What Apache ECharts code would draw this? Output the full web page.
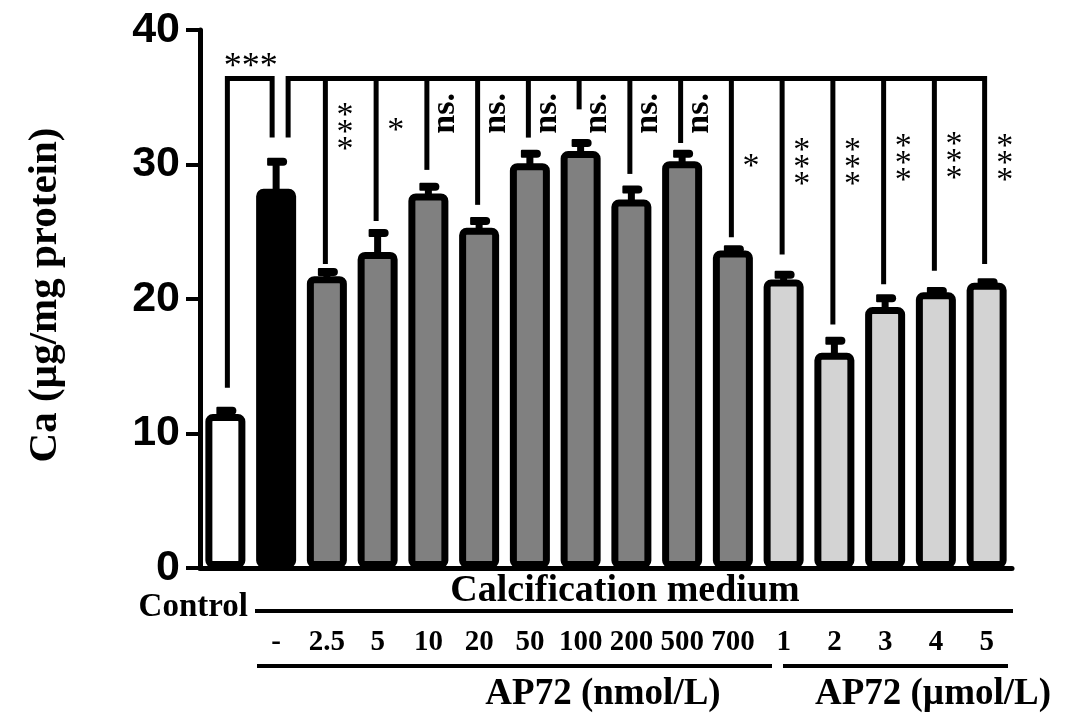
<!DOCTYPE html>
<html>
<head>
<meta charset="utf-8">
<script src="https://cdn.jsdelivr.net/npm/echarts@6/dist/echarts.min.js"></script>
<style>
  html, body { margin: 0; padding: 0; background: #fff; }
  #chart { width: 1065px; height: 717px; }
</style>
</head>
<body>
<div id="chart"></div>
<script>
  var categories = ['Control', '-', '2.5', '5', '10', '20', '50', '100', '200', '500', '700', '1', '2', '3', '4', '5'];
  var means = [11.45, 28.2, 21.7, 23.5, 27.85, 25.3, 30.1, 31.0, 27.4, 30.25, 23.6, 21.45, 16.0, 19.4, 20.5, 21.2];
  var errTops = [11.7, 30.2, 22.0, 24.9, 28.35, 25.8, 30.8, 31.6, 28.15, 30.8, 23.7, 21.8, 16.9, 20.05, 20.6, 21.25];
  var legEnds = [13.4, 32.0, 22.6, 25.8, 29.6, 27.0, 32.0, 34.1, 29.3, 31.6, 24.6, 23.3, 18.1, 21.1, 22.1, 22.6];
  var bracketLevel = 36.4;
  var sigLabels = ['***', '', '***', '*', 'ns.', 'ns.', 'ns.', 'ns.', 'ns.', 'ns.', '*', '***', '***', '***', '***', '***'];
  var sigLevels = [37.6, 0, 32.3, 32.5, 33.8, 33.8, 33.8, 33.8, 33.8, 33.8, 29.8, 29.7, 29.7, 30.0, 30.2, 30.0];
  var yTicks = [0, 10, 20, 30, 40];

  var serif = '"Liberation Serif", "Times New Roman", serif';
  var sans = '"Liberation Sans", Arial, sans-serif';

  function fillFor(i) {
    if (i === 0) return '#ffffff';
    if (i === 1) return '#000000';
    if (i <= 10) return '#808080';
    return '#d3d3d3';
  }

  var chart = echarts.init(document.getElementById('chart'));

  chart.setOption({
    animation: false,
    grid: { left: 200, right: 53, top: 30, bottom: 149 },
    xAxis: {
      type: 'category',
      data: categories,
      axisLine: { lineStyle: { color: '#000', width: 5 } },
      axisTick: { show: false },
      axisLabel: {
        interval: 0,
        margin: 75,
        verticalAlign: 'middle',
        color: '#000',
        fontFamily: serif,
        fontWeight: 'bold',
        fontSize: 29,
        formatter: function (v, i) { return i === 0 ? '' : v; }
      }
    },
    yAxis: {
      type: 'value',
      min: yTicks[0],
      max: yTicks[yTicks.length - 1],
      interval: yTicks[1] - yTicks[0],
      axisLine: { show: true, lineStyle: { color: '#000', width: 5 } },
      axisTick: { show: true, length: 14, lineStyle: { color: '#000', width: 4 } },
      splitLine: { show: false },
      axisLabel: {
        margin: 20,
        color: '#000',
        fontFamily: sans,
        fontWeight: 'bold',
        fontSize: 43
      }
    },
    series: [
      {
        type: 'bar',
        barWidth: 40,
        z: 2,
        itemStyle: { borderColor: '#000', borderWidth: 7, borderRadius: 4 },
        data: means.map(function (v, i) {
          return { value: v, itemStyle: { color: fillFor(i) } };
        })
      },
      {
        // upper error bars
        type: 'custom',
        z: 3,
        encode: { x: 0, y: [1, 2] },
        data: means.map(function (v, i) { return [i, v, errTops[i]]; }),
        renderItem: function (params, api) {
          var x = api.coord([api.value(0), 0])[0];
          var yMean = api.coord([api.value(0), api.value(1)])[1];
          var yTop = api.coord([api.value(0), api.value(2)])[1];
          return {
            type: 'group',
            children: [
              { type: 'rect', shape: { x: x - 3.5, y: yTop, width: 7, height: Math.max(0, yMean - yTop + 4) }, style: { fill: '#000' } },
              { type: 'rect', shape: { x: x - 9, y: yTop - 4, width: 20, height: 8, r: [1, 4, 4, 1] }, style: { fill: '#000' } }
            ]
          };
        }
      },
      {
        // significance brackets
        type: 'custom',
        z: 4,
        encode: { x: 0, y: 1 },
        data: legEnds.map(function (v, i) { return [i, v]; }),
        renderItem: function (params, api) {
          var i = api.value(0);
          var x = api.coord([i, 0])[0];
          var yLevel = api.coord([i, bracketLevel])[1];
          var yEnd = api.coord([i, api.value(1)])[1];
          var ls = { stroke: '#000', lineWidth: 5, fill: null, lineJoin: 'miter' };
          if (i === 0) {
            var x1 = api.coord([1, 0])[0] - 4;
            var yEnd1 = api.coord([1, legEnds[1]])[1];
            return { type: 'polyline', shape: { points: [[x + 2, yEnd], [x + 2, yLevel], [x1, yLevel], [x1, yEnd1]] }, style: ls };
          }
          if (i === 1) {
            var last = legEnds.length - 1;
            var xl = api.coord([last, 0])[0] - 2;
            var yEndL = api.coord([last, legEnds[last]])[1];
            return { type: 'polyline', shape: { points: [[x + 12, yEnd], [x + 12, yLevel], [xl, yLevel], [xl, yEndL]] }, style: ls };
          }
          if (i === legEnds.length - 1) return null;
          return { type: 'line', shape: { x1: x - 1.5, y1: yLevel, x2: x - 1.5, y2: yEnd }, style: ls };
        }
      },
      {
        // significance labels
        type: 'custom',
        z: 5,
        encode: { x: 0, y: 1 },
        data: sigLevels.map(function (v, i) { return [i, v]; }),
        renderItem: function (params, api) {
          var i = api.value(0);
          var label = sigLabels[i];
          if (!label) return null;
          var x = api.coord([i, 0])[0];
          var y = api.coord([i, api.value(1)])[1];
          if (i === 0) {
            var xm = (x + api.coord([1, 0])[0]) / 2;
            return { type: 'text', x: xm, y: y + 5, style: { text: label, font: 'normal 36px ' + serif, fill: '#000', align: 'center', verticalAlign: 'middle' } };
          }
          if (label === 'ns.') {
            return { type: 'text', x: x + 17, y: y, rotation: Math.PI / 2, style: { text: label, font: 'bold 34px ' + serif, fill: '#000', align: 'center', verticalAlign: 'middle' } };
          }
          var txt = label.split('').join('\n');
          return { type: 'text', x: x + 18, y: y, style: { text: txt, font: 'normal 34px ' + serif, lineHeight: 17, fill: '#000', align: 'center', verticalAlign: 'middle' } };
        }
      }
    ],
    graphic: [
      {
        type: 'text', x: 45, y: 295, rotation: Math.PI / 2,
        style: { text: 'Ca (µg/mg protein)', font: 'bold 41px ' + serif, fill: '#000', align: 'center', verticalAlign: 'middle' }
      },
      {
        type: 'text', x: 248, y: 607,
        style: { text: 'Control', font: 'bold 33px ' + serif, fill: '#000', align: 'right', verticalAlign: 'middle' }
      },
      {
        type: 'text', x: 625, y: 591,
        style: { text: 'Calcification medium', font: 'bold 38px ' + serif, fill: '#000', align: 'center', verticalAlign: 'middle' }
      },
      { type: 'line', shape: { x1: 255, y1: 611, x2: 1013, y2: 611 }, style: { stroke: '#000', lineWidth: 4 } },
      { type: 'line', shape: { x1: 257, y1: 666, x2: 772, y2: 666 }, style: { stroke: '#000', lineWidth: 4 } },
      { type: 'line', shape: { x1: 783, y1: 666, x2: 1008, y2: 666 }, style: { stroke: '#000', lineWidth: 4 } },
      {
        type: 'text', x: 603, y: 694,
        style: { text: 'AP72 (nmol/L)', font: 'bold 37px ' + serif, fill: '#000', align: 'center', verticalAlign: 'middle' }
      },
      {
        type: 'text', x: 933, y: 694,
        style: { text: 'AP72 (µmol/L)', font: 'bold 37px ' + serif, fill: '#000', align: 'center', verticalAlign: 'middle' }
      }
    ]
  });
</script>
</body>
</html>
